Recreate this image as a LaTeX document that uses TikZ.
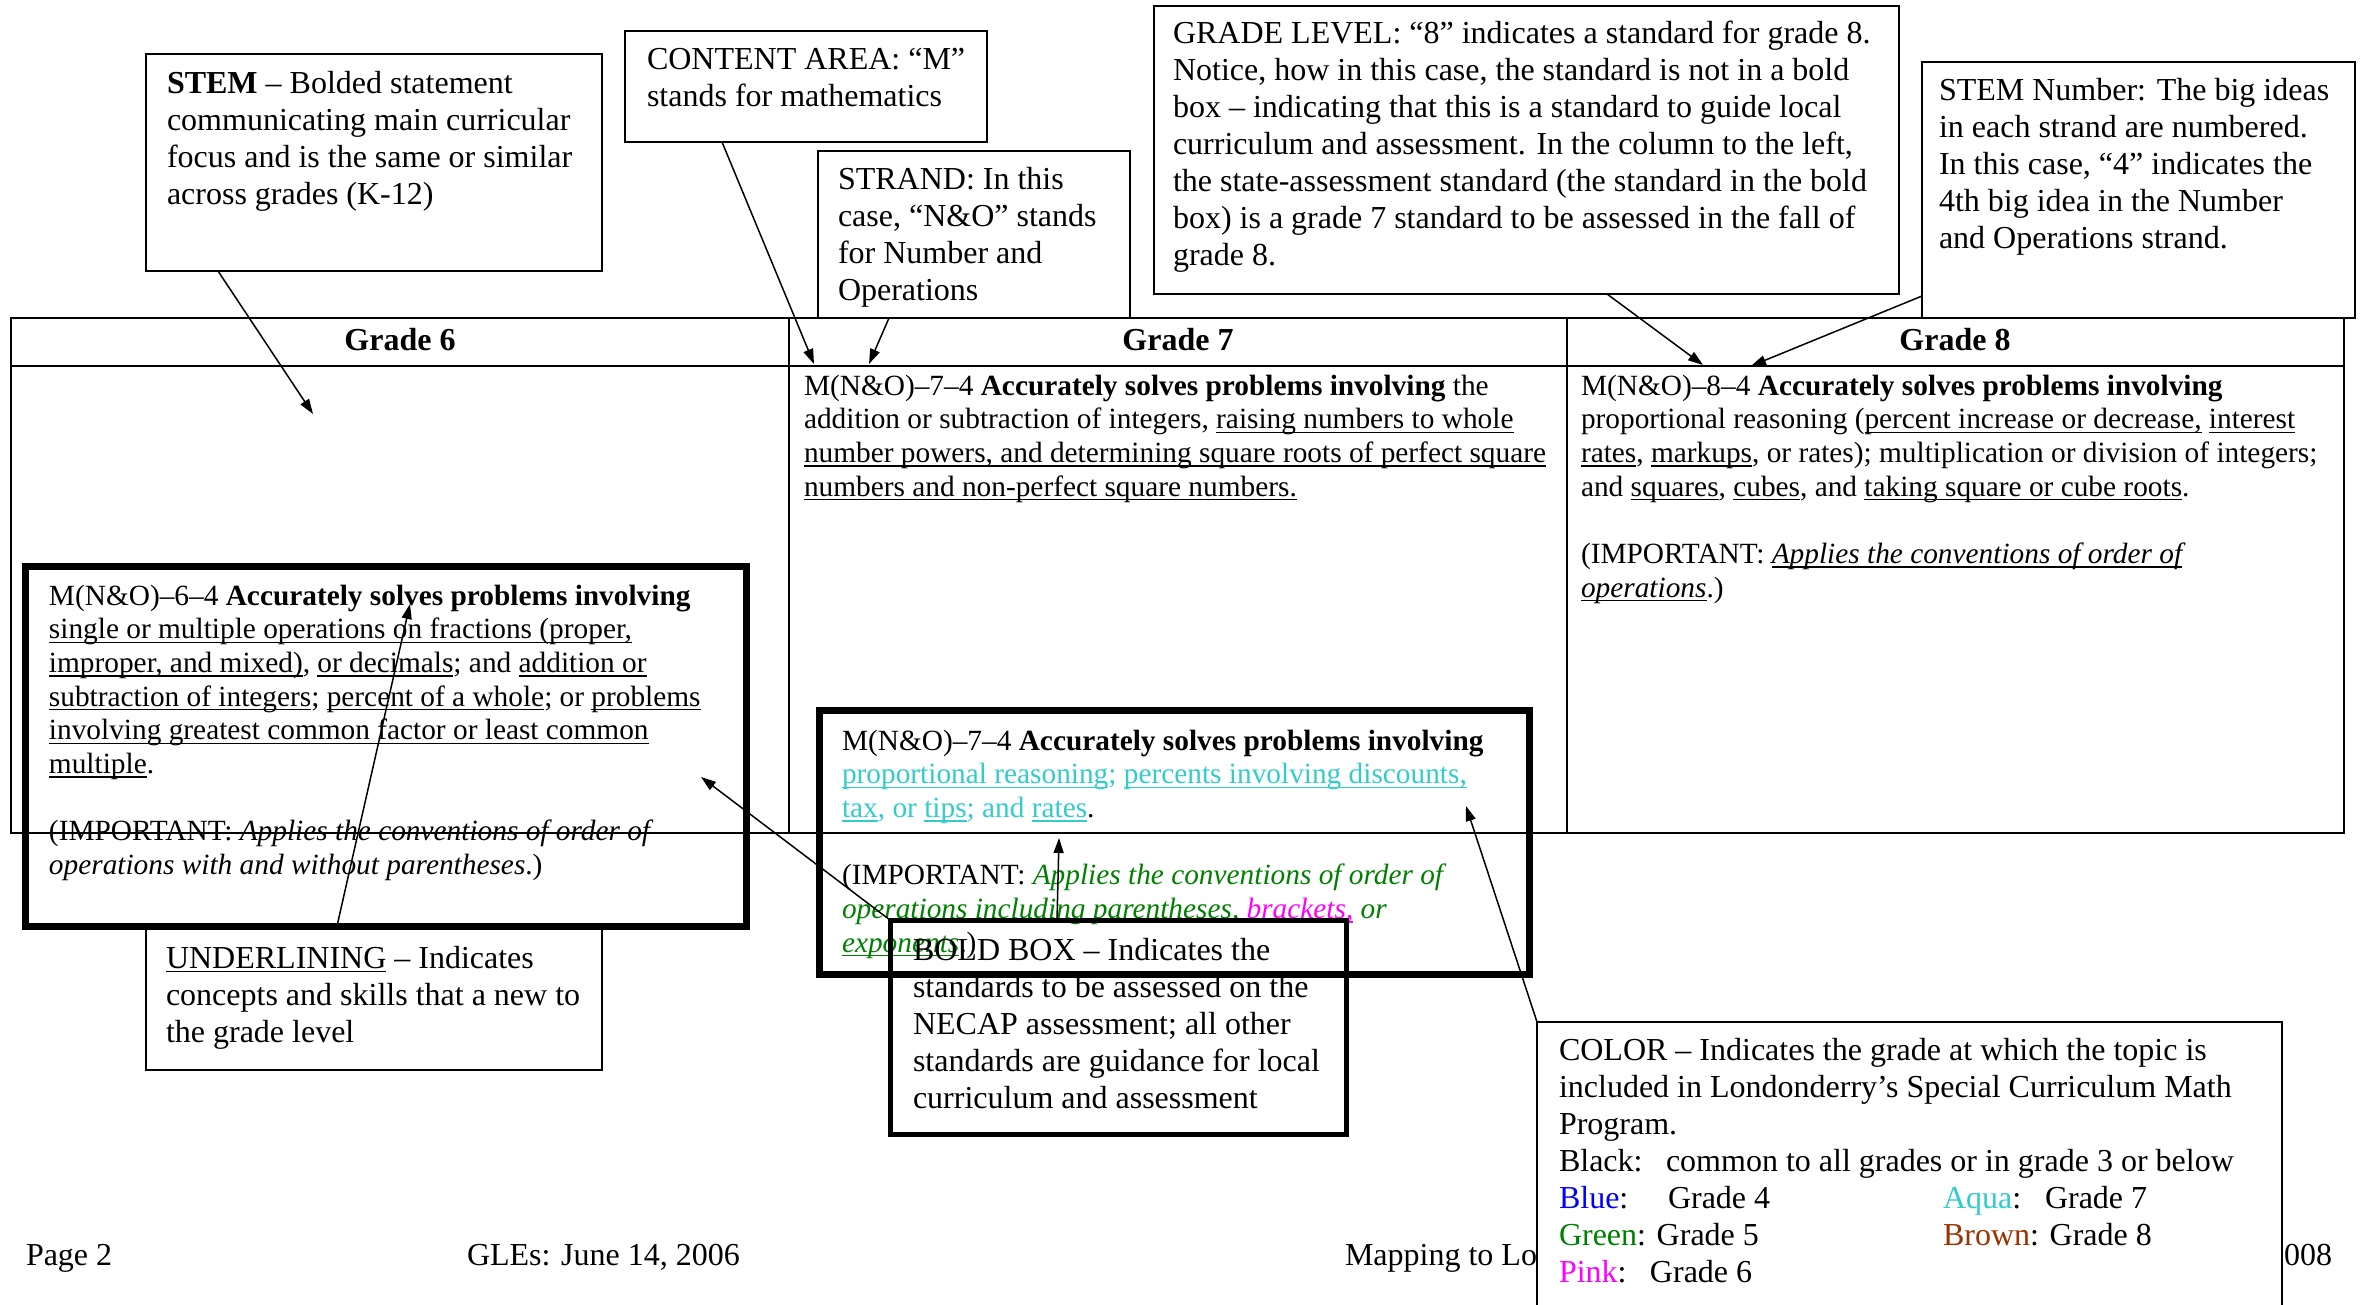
\documentclass[tikz,border=0pt]{standalone}
\usepackage{fontspec}
\setmainfont{Liberation Serif}
\usetikzlibrary{fit,calc,arrows.meta}
\definecolor{caqua}{RGB}{51,204,204}
\definecolor{cgreen}{RGB}{0,128,0}
\definecolor{cpink}{RGB}{255,0,255}
\definecolor{cblue}{RGB}{0,0,255}
\definecolor{cbrown}{RGB}{153,51,0}
\newcommand\myul[1]{\setbox0=\hbox{#1}\rlap{\rule[-1.3pt]{\wd0}{0.45pt}}\box0\relax}
\newcommand\mlines[1]{\begin{tabular}[t]{@{}l@{}}#1\end{tabular}}
\tikzset{
  cfont/.style={font=\fontsize{9.6}{11.1}\selectfont},
  tfont/.style={font=\fontsize{8.8}{10.1}\selectfont},
  txt/.style={anchor=base west, inner sep=0pt, outer sep=0pt},
  cbox/.style={draw, line width=0.5pt, inner sep=0pt, outer sep=0pt},
  boldbox/.style={draw, line width=2.1pt, inner sep=0pt, outer sep=0pt},
  bbcall/.style={draw, line width=1.5pt, inner sep=0pt, outer sep=0pt},
  tline/.style={line width=0.6pt},
  arr/.style={-{Triangle[length=4.5pt,width=3pt]}, line width=0.45pt},
  hdr/.style={anchor=base, inner sep=0pt, font=\fontsize{9.6}{11.1}\selectfont\bfseries},
}
\begin{document}
\begin{tikzpicture}[x=0.3pt,y=-0.3pt]
\useasboundingbox (0,0) rectangle (2360,1305);

% ---- table ----
\node[draw, tline, inner sep=0pt, fit={(11,318) (2344,833)}] (table) {};
\draw[tline] (table.west |- 0,366) -- (table.east |- 0,366);
\draw[tline] (789,0 |- table.north) -- (789,0 |- table.south);
\draw[tline] (1567,0 |- table.north) -- (1567,0 |- table.south);
\node[hdr] (h6) at (400,350) {Grade 6};
\node[hdr] (h7) at (1178,350) {Grade 7};
\node[hdr] (h8) at (1955,350) {Grade 8};

% grade 7 cell
\node[txt, tfont] (g7) at (804,395) {\mlines{%
M(N\&O)–7–4 \textbf{Accurately solves problems involving} the\\
addition or subtraction of integers, \myul{raising numbers to whole}\\
\myul{number powers, and determining square roots of perfect square}\\
\myul{numbers and non-perfect square numbers.}}};

% grade 8 cell
\node[txt, tfont] (g8) at (1581,395) {\mlines{%
M(N\&O)–8–4 \textbf{Accurately solves problems involving}\\
proportional reasoning (\myul{percent increase or decrease,} \myul{interest}\\
\myul{rates}, \myul{markups}, or rates); multiplication or division of integers;\\
and \myul{squares}, \myul{cubes}, and \myul{taking square or cube roots}.\\
\\
(IMPORTANT: \textit{\myul{Applies the conventions of order of}}\\
\textit{\myul{operations}}.)}};

% ---- bold box grade 6 ----
\node[boldbox, fit={(25,566) (746,926)}] (bold6) {};
\node[txt, tfont] (b6text) at (49,605) {\mlines{%
M(N\&O)–6–4 \textbf{Accurately solves problems involving}\\
\myul{single or multiple operations on fractions (proper,}\\
\myul{improper, and mixed)}, \myul{or decimals}; and \myul{addition or}\\
\myul{subtraction of integers}; \myul{percent of a whole}; or \myul{problems}\\
\myul{involving greatest common factor or least common}\\
\myul{multiple}.\\
\\
(IMPORTANT: \textit{Applies the conventions of order of}\\
\textit{operations with and without parentheses}.)}};

% ---- bold box grade 7 ----
\node[boldbox, fit={(819,710) (1529,974)}] (bold7) {};
\node[txt, tfont] (b7text) at (842,750) {\mlines{%
M(N\&O)–7–4 \textbf{Accurately solves problems involving}\\
\textcolor{caqua}{\myul{proportional reasoning}; \myul{percents involving discounts,}}\\
\textcolor{caqua}{\myul{tax}, or \myul{tips}; and \myul{rates}}.\\
\\
(IMPORTANT: \textcolor{cgreen}{\textit{Applies the conventions of order of}}\\
\textcolor{cgreen}{\textit{operations including parentheses, }}\textcolor{cpink}{\textit{\myul{brackets,}}}\textcolor{cgreen}{\textit{ or}}\\
\textcolor{cgreen}{\textit{\myul{exponents}}}.)}};

% ---- callouts ----
\node[cbox, fit={(146,54) (602,271)}] (stembox) {};
\node[txt, cfont] (stemtext) at (167,94) {\mlines{%
\textbf{STEM} – Bolded statement\\
communicating main curricular\\
focus and is the same or similar\\
across grades (K-12)}};

\node[cbox, fit={(625,31) (987,142)}] (cabox) {};
\node[txt, cfont] (catext) at (647,70) {\mlines{%
CONTENT AREA: “M”\\
stands for mathematics}};

\node[cbox, fit={(818,151) (1130,318)}] (stbox) {};
\node[txt, cfont] (sttext) at (838,190) {\mlines{%
STRAND: In this\\
case, “N\&O” stands\\
for Number and\\
Operations}};

\node[cbox, fit={(1154,6) (1899,294)}] (glbox) {};
\node[txt, cfont] (gltext) at (1173,44) {\mlines{%
GRADE LEVEL: “8” indicates a standard for grade 8.\\
Notice, how in this case, the standard is not in a bold\\
box – indicating that this is a standard to guide local\\
curriculum and assessment. In the column to the left,\\
the state-assessment standard (the standard in the bold\\
box) is a grade 7 standard to be assessed in the fall of\\
grade 8.}};

\node[cbox, fit={(1922,62) (2355,318)}] (snbox) {};
\node[txt, cfont] (sntext) at (1939,101) {\mlines{%
STEM Number: The big ideas\\
in each strand are numbered.\\
In this case, “4” indicates the\\
4th big idea in the Number\\
and Operations strand.}};

\node[cbox, fit={(146,926) (602,1070)}] (ulbox) {};
\node[txt, cfont] (ultext) at (166,968) {\mlines{%
\myul{UNDERLINING} – Indicates\\
concepts and skills that a new to\\
the grade level}};

\node[bbcall, fit={(890,920) (1346,1134)}] (bbbox) {};
\node[txt, cfont] (bbtext) at (913,960) {\mlines{%
BOLD BOX – Indicates the\\
standards to be assessed on the\\
NECAP assessment; all other\\
standards are guidance for local\\
curriculum and assessment}};

% ---- footer ----
\node[txt, cfont] (f1) at (26,1265) {Page 2};
\node[txt, cfont] (f2) at (467,1265) {GLEs: June 14, 2006};
\node[txt, cfont] (f3) at (1345,1265) {Mapping to Lo};
\node[txt, cfont] (f4) at (2284,1265) {008};

% ---- colour legend ----
\begin{scope}
\clip (0,0) rectangle (2360,1305);
\node[cbox, fill=white, fit={(1537,1022) (2282,1340)}] (colbox) {};
\end{scope}
\node[txt, cfont] (coltext) at (1559,1060) {\mlines{%
COLOR – Indicates the grade at which the topic is\\
included in Londonderry’s Special Curriculum Math\\
Program.\\
\makebox[32.1pt][l]{Black:}common to all grades or in grade 3 or below\\
\makebox[115.2pt][l]{\makebox[32.7pt][l]{\textcolor{cblue}{Blue}:}Grade 4}\makebox[30.6pt][l]{\textcolor{caqua}{Aqua}:}Grade 7\\
\makebox[115.2pt][l]{\textcolor{cgreen}{Green}: Grade 5}\textcolor{cbrown}{Brown}: Grade 8\\
\makebox[27.3pt][l]{\textcolor{cpink}{Pink}:}Grade 6}};

% ---- connectors ----
\coordinate (stemtip) at (313,414);
\coordinate (catip) at (814,364);
\coordinate (sttip) at (869,364);
\coordinate (gltip) at (1703,365);
\coordinate (sntip) at (1751,366);
\coordinate (ultip) at (410,604);
\coordinate (bbtip1) at (701,777);
\coordinate (bbtip2) at (1059,838);
\coordinate (coltip) at (1466,806);

\draw[arr] (218,0 |- stembox.south) -- (stemtip);
\draw[arr] (722,0 |- cabox.south) -- (catip);
\draw[arr] (889,0 |- stbox.south) -- (sttip);
\draw[arr] (1607,0 |- glbox.south) -- (gltip);
\draw[arr] ($(snbox.south west)+(0,-22)$) -- (sntip);
\draw[arr] (337,0 |- ulbox.north) -- (ultip);
\draw[arr] (bbbox.north west) -- (bbtip1);
\draw[arr] (1057,0 |- bbbox.north) -- (bbtip2);
\draw[arr] (colbox.north west) -- (coltip);
\end{tikzpicture}
\end{document}
